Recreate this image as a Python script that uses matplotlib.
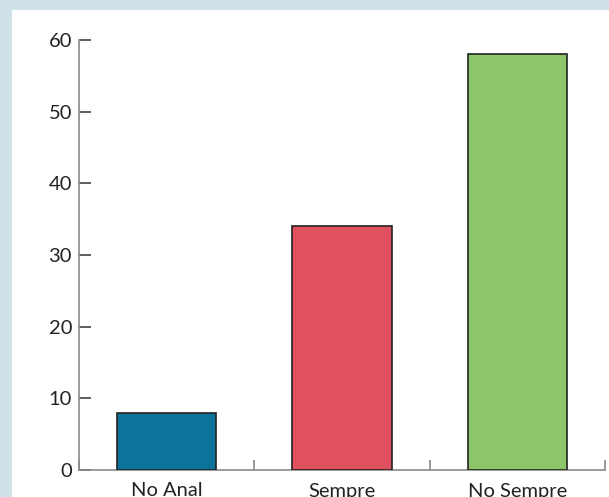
import matplotlib
matplotlib.use("Agg")
import matplotlib.pyplot as plt
from matplotlib.patches import Rectangle
import numpy as np

categories = ["No Anal", "Sempre", "No Sempre"]
values = [8, 34, 58]
colors = ["#0b739c", "#e0505e", "#8dc56a"]

plt.rcParams['font.family'] = ['Lato', 'DejaVu Sans']

fig = plt.figure(figsize=(6.09, 4.97), dpi=100)
fig.patch.set_facecolor("#cfe1e9")
# white panel
fig.patches.append(Rectangle((12 / 609, 0), 1, 1 - 10 / 497,
                             transform=fig.transFigure, facecolor="white",
                             edgecolor="none", zorder=-10))

ax = fig.add_axes([79 / 609, 27 / 497, 526 / 609, 430 / 497])
ax.set_facecolor("none")
ax.set_zorder(1)

x = np.arange(len(categories))
ax.bar(x, values, width=0.565, color=colors, edgecolor="#222222", linewidth=1.2, zorder=3)

ax.set_xlim(-0.5, 2.5)
ax.set_ylim(0, 60)

for s in ["top", "right"]:
    ax.spines[s].set_visible(False)
for s in ["left", "bottom"]:
    ax.spines[s].set_color("#8a8a8a")
    ax.spines[s].set_linewidth(1.2)

ax.set_yticks([0, 10, 20, 30, 40, 50, 60])
ax.tick_params(axis="y", direction="in", length=8.6, width=1.2, color="#444444",
               labelsize=14.5, labelcolor="#222222", pad=5)

ax.set_xticks([-0.5, 0.5, 1.5, 2.5])
ax.set_xticklabels([])
ax.set_xticks(x, minor=True)
ax.set_xticklabels(categories, minor=True)
ax.tick_params(axis="x", which="major", direction="in", length=7.2, width=1.2, color="#8a8a8a")
ax.tick_params(axis="x", which="minor", length=0, labelsize=14.5, labelcolor="#222222", pad=9)

fig.savefig("out.png", dpi=100, facecolor=fig.get_facecolor())
